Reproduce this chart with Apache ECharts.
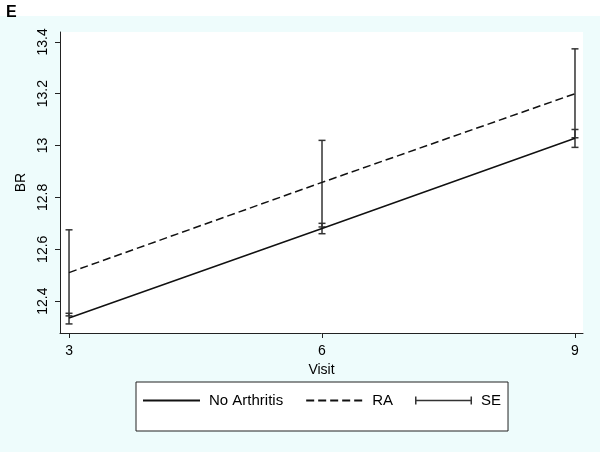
<!DOCTYPE html>
<html>
<head>
<meta charset="utf-8">
<script src="https://cdn.jsdelivr.net/npm/echarts@6/dist/echarts.min.js"></script>
<style>
	html, body { margin: 0; padding: 0; background: #eefcfc; }
	#main { width: 600px; height: 452px; }
</style>
</head>
<body>
<div id="main"></div>
<script>
// data
var visits = [3, 6, 9];
var noArthritis = [12.335, 12.68, 13.028];
var ra = [12.51, 12.858, 13.2];
var noArthLow = [12.312, 12.66, 12.993];
var noArthHigh = [12.353, 12.70, 13.062];
var raLow = [12.343, 12.686, 13.03];
var raHigh = [12.675, 13.02, 13.373];
var xTicks = [3, 6, 9];
var yTicks = [12.4, 12.6, 12.8, 13, 13.2, 13.4];

var font = 'Liberation Sans, Arial, Helvetica, sans-serif';

function pairs(xs, ys) {
	var arr = [];
	for (var i = 0; i < xs.length; i++) {
		arr.push([xs[i], ys[i]]);
	}
	return arr;
}

function seData() {
	var arr = [];
	for (var i = 0; i < visits.length; i++) {
		arr.push([visits[i], noArthLow[i], noArthHigh[i]]);
		arr.push([visits[i], raLow[i], raHigh[i]]);
	}
	return arr;
}

// vertical bar with small caps at both ends
function renderSE(params, api) {
	var lo = api.coord([api.value(0), api.value(1)]);
	var hi = api.coord([api.value(0), api.value(2)]);
	var cap = 3.5;
	var style = { stroke: '#333', lineWidth: 1.5 };
	return {
		type: 'group',
		children: [
			{ type: 'line', shape: { x1: lo[0], y1: lo[1], x2: hi[0], y2: hi[1] }, style: style },
			{ type: 'line', shape: { x1: lo[0] - cap, y1: lo[1], x2: lo[0] + cap, y2: lo[1] }, style: style },
			{ type: 'line', shape: { x1: hi[0] - cap, y1: hi[1], x2: hi[0] + cap, y2: hi[1] }, style: style }
		]
	};
}

// hide the dot ECharts puts in the middle of a line legend icon
var noDot = { color: 'rgba(0,0,0,0)', borderWidth: 0, borderColor: 'rgba(0,0,0,0)' };

var myChart = echarts.init(document.getElementById('main'));
myChart.setOption({
	backgroundColor: '#eefcfc',
	animation: false,
	title: {
		text: 'E',
		left: 1,
		top: 0,
		textStyle: { fontFamily: font, fontSize: 16, fontWeight: 'bold', color: '#000' }
	},
	graphic: [{
		type: 'rect',
		z: -10,
		shape: { x: 0, y: 0, width: 600, height: 16 },
		style: { fill: '#ffffff' }
	}],
	grid: {
		left: 60,
		right: 17,
		top: 32,
		bottom: 119,
		show: true,
		backgroundColor: '#ffffff',
		borderWidth: 0
	},
	legend: {
		left: 136,
		top: 382,
		orient: 'horizontal',
		itemWidth: 57,
		itemHeight: 8,
		itemGap: 22,
		padding: [11, 7, 23, 6],
		borderColor: '#222',
		borderWidth: 1,
		backgroundColor: '#ffffff',
		selectedMode: false,
		textStyle: { fontFamily: font, fontSize: 15, color: '#000', padding: [0, 0, 0, 4] },
		data: [
			{ name: 'No Arthritis', itemStyle: noDot },
			{ name: 'RA', itemStyle: noDot },
			{ name: 'SE', icon: 'path://M0,0h1.5v8h-1.5z M0,3.25h57v1.5h-57z M55.5,0h1.5v8h-1.5z', itemStyle: { color: '#333' } }
		]
	},
	xAxis: {
		type: 'value',
		min: 2.893,
		max: 9.095,
		name: 'Visit',
		nameLocation: 'middle',
		nameGap: 25,
		nameTextStyle: { fontFamily: font, fontSize: 14, color: '#000' },
		axisLine: { show: true, onZero: false, lineStyle: { color: '#222', width: 1 } },
		axisTick: { show: true, length: 5, customValues: xTicks, lineStyle: { color: '#222' } },
		axisLabel: { customValues: xTicks, margin: 11, fontFamily: font, fontSize: 14, color: '#000' },
		splitLine: { show: false }
	},
	yAxis: {
		type: 'value',
		min: 12.277,
		max: 13.438,
		name: 'BR',
		nameLocation: 'middle',
		nameRotate: 90,
		nameGap: 24,
		nameTextStyle: { fontFamily: font, fontSize: 14, color: '#000' },
		axisLine: { show: true, onZero: false, lineStyle: { color: '#222', width: 1 } },
		axisTick: { show: true, length: 5, customValues: yTicks, lineStyle: { color: '#222' } },
		axisLabel: {
			customValues: yTicks,
			rotate: 90,
			margin: 10,
			fontFamily: font,
			fontSize: 14,
			color: '#000'
		},
		splitLine: { show: false }
	},
	series: [{
		name: 'No Arthritis',
		type: 'line',
		symbol: 'none',
		lineStyle: { color: '#111', width: 1.5, type: 'solid' },
		itemStyle: { color: '#111' },
		data: pairs(visits, noArthritis)
	}, {
		name: 'RA',
		type: 'line',
		symbol: 'none',
		lineStyle: { color: '#111', width: 1.5, type: [8, 4] },
		itemStyle: { color: '#111' },
		data: pairs(visits, ra)
	}, {
		name: 'SE',
		type: 'custom',
		renderItem: renderSE,
		itemStyle: { color: '#333' },
		encode: { x: 0, y: [1, 2] },
		data: seData()
	}]
});
</script>
</body>
</html>
